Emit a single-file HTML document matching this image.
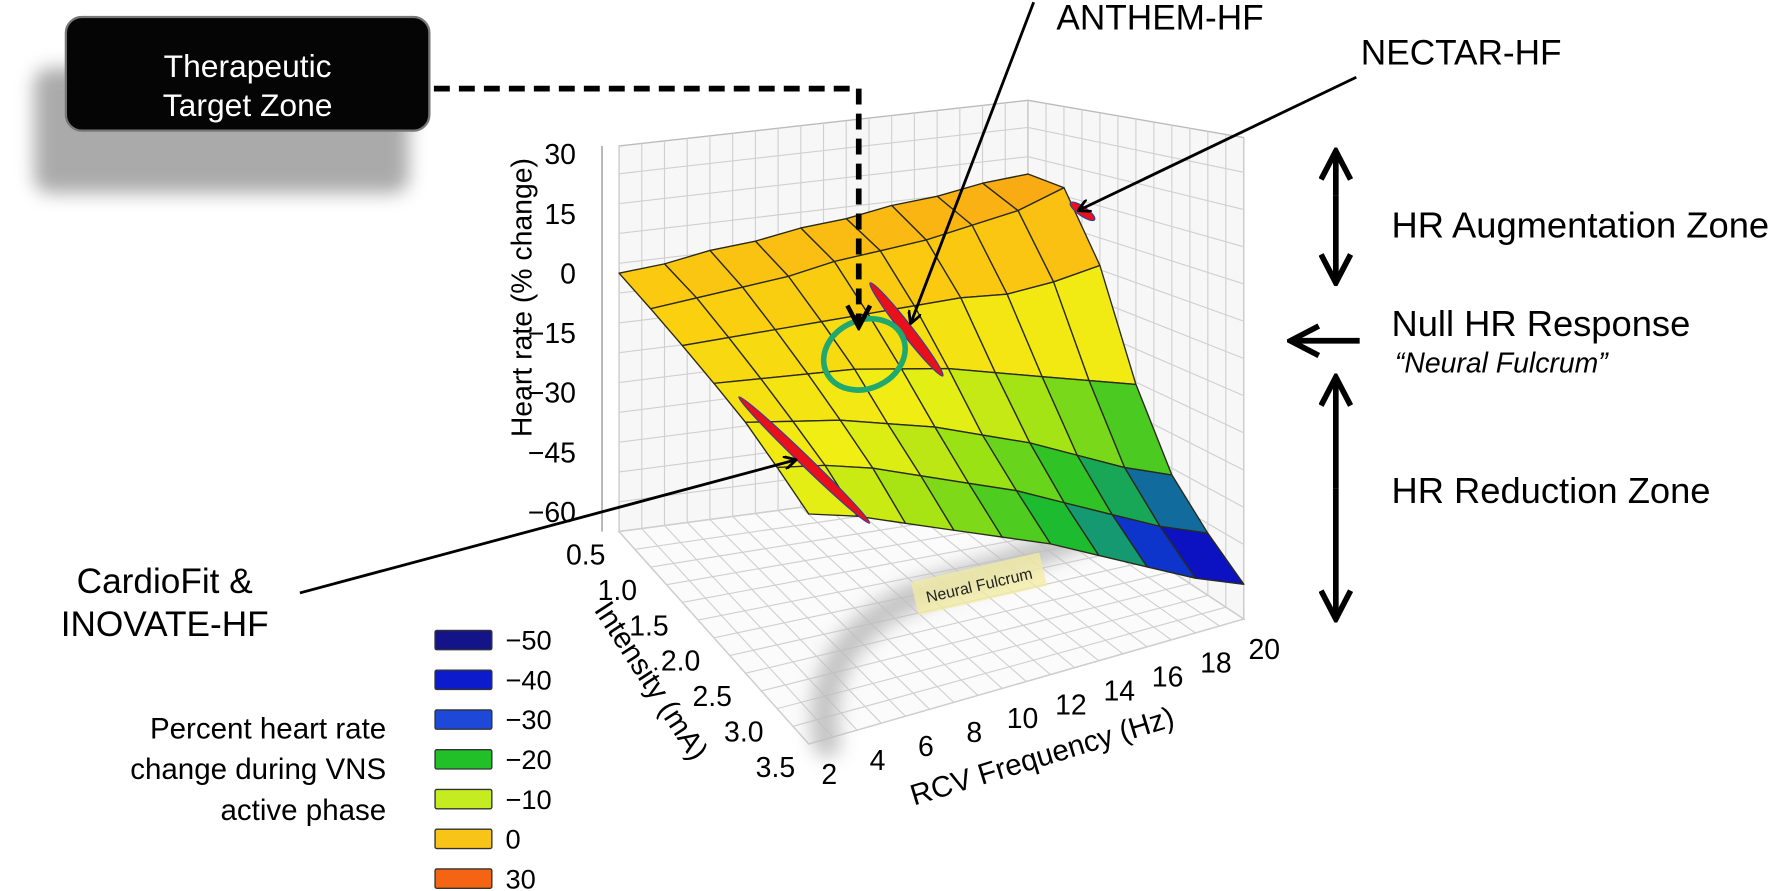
<!DOCTYPE html>
<html><head><meta charset="utf-8">
<style>
html,body{margin:0;padding:0;background:#fff;}
svg{display:block;font-family:"Liberation Sans",Arial,sans-serif;}
</style></head>
<body>
<svg id="fig" width="1772" height="891" viewBox="0 0 1772 891" xmlns="http://www.w3.org/2000/svg">
<defs>
  <filter id="blur8" x="-50%" y="-50%" width="200%" height="200%"><feGaussianBlur stdDeviation="8"/></filter>
  <marker id="ah" markerWidth="12" markerHeight="12" refX="10" refY="6" orient="auto" markerUnits="userSpaceOnUse"><path d="M0,0 L11,6 L0,12" fill="none" stroke="#000" stroke-width="2.5"/></marker>
  <marker id="ahB" markerWidth="30" markerHeight="30" refX="26" refY="15" orient="auto" markerUnits="userSpaceOnUse"><path d="M2,2 L27,15 L2,28" fill="none" stroke="#000" stroke-width="5"/></marker>
  <marker id="ahD" markerWidth="24" markerHeight="24" refX="20" refY="12" orient="auto" markerUnits="userSpaceOnUse"><path d="M2,2 L21,12 L2,22" fill="none" stroke="#000" stroke-width="4"/></marker>
</defs>
<g transform="scale(1.1359)">
<g id="walls"></g>
<g id="fulcrum">
  <path d="M728,655 C715,585 760,535 840,512 C900,495 950,470 985,458" fill="none" stroke="#bdbdbd" stroke-width="24" stroke-linecap="round" filter="url(#blur8)" opacity="0.9"/>
</g>
<g transform="translate(862,515) rotate(-13)">
  <rect x="-58" y="-16" width="116" height="30" fill="#f1eca0" opacity="0.75"/>
  <text x="0" y="5" font-size="14" text-anchor="middle" fill="#222">Neural Fulcrum</text>
</g>
<g id="surface"></g>
<g id="ticks"></g>

<ellipse cx="798" cy="290" rx="52" ry="5" transform="rotate(52 798 290)" fill="#e8101a" stroke="#3040a0" stroke-width="1"/>
<ellipse cx="708" cy="405" rx="80" ry="4.5" transform="rotate(44 708 405)" fill="#e8101a" stroke="#3040a0" stroke-width="1"/>
<ellipse cx="953" cy="186" rx="13" ry="4" transform="rotate(35 953 186)" fill="#e8101a" stroke="#3040a0" stroke-width="1"/>
<ellipse cx="761" cy="312" rx="37" ry="30" transform="rotate(-25 761 312)" fill="none" stroke="#20a870" stroke-width="5"/>

<text transform="translate(468,262) rotate(-90)" font-size="25" text-anchor="middle">Heart rate (% change)</text>
<text transform="translate(566,604) rotate(57)" font-size="26" text-anchor="middle">Intensity (mA)</text>
<text transform="translate(920,674) rotate(-17)" font-size="26" text-anchor="middle">RCV Frequency (Hz)</text>

<g>
  <rect x="30" y="60" width="330" height="110" rx="14" fill="#666" opacity="0.55" filter="url(#blur8)"/>
  <rect x="58" y="15" width="320" height="100" rx="14" fill="#050505" stroke="#777" stroke-width="2"/>
  <text x="218" y="68" font-size="28" fill="#fff" text-anchor="middle">Therapeutic</text>
  <text x="218" y="102" font-size="28" fill="#fff" text-anchor="middle">Target Zone</text>
</g>
<path d="M382,78 L756,78 L756,287" fill="none" stroke="#000" stroke-width="5" stroke-dasharray="14,8" marker-end="url(#ahD)"/>

<text x="930" y="26" font-size="31">ANTHEM-HF</text>
<line x1="910" y1="2" x2="802" y2="284" stroke="#000" stroke-width="2.5" marker-end="url(#ah)"/>
<text x="1198" y="57" font-size="31">NECTAR-HF</text>
<line x1="1194" y1="68" x2="950" y2="185" stroke="#000" stroke-width="2.5" marker-end="url(#ah)"/>
<text x="145" y="522" font-size="31" text-anchor="middle">CardioFit &amp;</text>
<text x="145" y="560" font-size="31" text-anchor="middle">INOVATE-HF</text>
<line x1="264" y1="522" x2="700" y2="405" stroke="#000" stroke-width="2.5" marker-end="url(#ah)"/>

<line x1="1176" y1="172" x2="1176" y2="134" stroke="#000" stroke-width="5" marker-end="url(#ahB)"/>
<line x1="1176" y1="172" x2="1176" y2="248" stroke="#000" stroke-width="5" marker-end="url(#ahB)"/>
<text x="1225" y="209" font-size="32">HR Augmentation Zone</text>
<line x1="1197" y1="300" x2="1137" y2="300" stroke="#000" stroke-width="5" marker-end="url(#ahB)"/>
<text x="1225" y="296" font-size="32">Null HR Response</text>
<text x="1228" y="328" font-size="25" font-style="italic">“Neural Fulcrum”</text>
<line x1="1176" y1="430" x2="1176" y2="333" stroke="#000" stroke-width="5" marker-end="url(#ahB)"/>
<line x1="1176" y1="430" x2="1176" y2="544" stroke="#000" stroke-width="5" marker-end="url(#ahB)"/>
<text x="1225" y="443" font-size="32">HR Reduction Zone</text>

<g id="legend">
  <text x="340" y="650" font-size="26" text-anchor="end">Percent heart rate</text>
  <text x="340" y="686" font-size="26" text-anchor="end">change during VNS</text>
  <text x="340" y="722" font-size="26" text-anchor="end">active phase</text>
</g>
</g>
</svg>
<script>
// ---- data ----
const freqs = [2,4,6,8,10,12,14,16,18,20];
const intensities = [0.5,1.0,1.5,2.0,2.5,3.0,3.5];
const hr_i05 = [0, 1, 3, 4, 6, 7, 9, 10, 12, 13];
const hr_i10 = [-3, -2, -1, 0, 2, 3, 4, 6, 8, 12];
const hr_i15 = [-6, -6, -6, -6, -6, -6, -6, -7, -6, -4];
const hr_i20 = [-9, -10, -11, -12, -14, -16, -19, -22, -25, -28];
const hr_i25 = [-12, -14, -16, -19, -22, -26, -30, -35, -40, -44];
const hr_i30 = [-16, -18, -21, -25, -29, -33, -38, -43, -48, -52];
const hr_i35 = [-20, -23, -27, -31, -35, -39, -44, -49, -54, -58];
const zTicks = [30, 15, 0, -15, -30, -45, -60];
const zTickLabels = ["30","15","0","\u221215","\u221230","\u221245","\u221260"];
const freqTickLabels = ["2","4","6","8","10","12","14","16","18","20"];
const intTickLabels = ["0.5","1.0","1.5","2.0","2.5","3.0","3.5"];
const legendValues = [-50,-40,-30,-20,-10,0,30];
const legendLabels = ["\u221250","\u221240","\u221230","\u221220","\u221210","0","30"];
const legendColors = ["#14148a","#0c1ccc","#1e48d8","#22c028","#c4ec20","#f8c418","#f46412"];

const rows = [hr_i05,hr_i10,hr_i15,hr_i20,hr_i25,hr_i30,hr_i35];
const NS = "http://www.w3.org/2000/svg";
const FLOOR = -65, TOP = 32;
const C = {bl:[545,468], br:[905,420], fl:[712,655], fr:[1095,545]};
const S = {bl:3.5, br:3.42, fl:4.5, fr:4.37};
function lerp(a,b,t){return a+(b-a)*t;}
function proj(f,i,z){
  const u=(f-2)/18, v=(i-0.5)/3;
  const x = lerp(lerp(C.bl[0],C.br[0],u), lerp(C.fl[0],C.fr[0],u), v);
  const y = lerp(lerp(C.bl[1],C.br[1],u), lerp(C.fl[1],C.fr[1],u), v);
  const s = lerp(lerp(S.bl,S.br,u), lerp(S.fl,S.fr,u), v);
  return [x, y-(z-FLOOR)*s];
}
function el(tag, attrs, parent){const e=document.createElementNS(NS,tag);for(const k in attrs)e.setAttribute(k,attrs[k]);parent.appendChild(e);return e;}
function pts(a){return a.map(p=>p[0].toFixed(1)+","+p[1].toFixed(1)).join(" ");}

const walls=document.getElementById('walls');
const wallStyle={fill:"#f7f7f7",stroke:"#bbb","stroke-width":"1.2"};
const backWall = el('polygon',Object.assign({points:pts([proj(2,0.5,FLOOR),proj(20,0.5,FLOOR),proj(20,0.5,TOP),proj(2,0.5,TOP)])},wallStyle),walls);


const rightWall = el('polygon',Object.assign({points:pts([proj(20,0.5,FLOOR),proj(20,3.5,FLOOR),proj(20,3.5,TOP),proj(20,0.5,TOP)])},wallStyle),walls);


const floorP = el('polygon',{points:pts([proj(2,0.5,FLOOR),proj(20,0.5,FLOOR),proj(20,3.5,FLOOR),proj(2,3.5,FLOOR)]),fill:"#fbfbfb",stroke:"#bbb","stroke-width":"1.2"},walls);


const g="#d0d0d0";
for(let z=FLOOR; z<=TOP; z+=7.5){
  const a=proj(2,0.5,z),b=proj(20,0.5,z),c=proj(20,3.5,z);
  el('polyline',{points:pts([a,b,c]),fill:"none",stroke:g,"stroke-width":"1"},walls);
}
for(let f=2; f<=20; f+=1){
  const a=proj(f,0.5,FLOOR),b=proj(f,0.5,TOP),c=proj(f,3.5,FLOOR);
  el('line',{x1:a[0],y1:a[1],x2:b[0],y2:b[1],stroke:g,"stroke-width":"1"},walls);
  el('line',{x1:a[0],y1:a[1],x2:c[0],y2:c[1],stroke:g,"stroke-width":"1"},walls);
}
for(let i=0.5; i<=3.501; i+=0.25){
  const a=proj(20,i,FLOOR),b=proj(20,i,TOP),c=proj(2,i,FLOOR);
  el('line',{x1:a[0],y1:a[1],x2:b[0],y2:b[1],stroke:g,"stroke-width":"1"},walls);
  el('line',{x1:c[0],y1:c[1],x2:a[0],y2:a[1],stroke:g,"stroke-width":"1"},walls);
}
{const a=proj(2,0.5,FLOOR),b=proj(2,0.5,TOP);
el('line',{x1:a[0]-15,y1:a[1],x2:b[0]-15,y2:b[1],stroke:"#999","stroke-width":"1.2"},walls);}

const cStops=[[-58,[15,15,130]],[-50,[10,20,230]],[-44,[20,150,120]],[-38,[30,190,40]],[-28,[150,225,20]],[-18,[240,240,20]],[-5,[250,210,15]],[10,[250,175,20]],[20,[245,140,15]],[30,[245,110,15]]];
function color(z){
  if(z<=cStops[0][0])return "rgb("+cStops[0][1]+")";
  for(let k=1;k<cStops.length;k++){if(z<=cStops[k][0]){const t=(z-cStops[k-1][0])/(cStops[k][0]-cStops[k-1][0]);const a=cStops[k-1][1],b=cStops[k][1];return "rgb("+a.map((v,j)=>Math.round(lerp(v,b[j],t))).join(",")+")";}}
  return "rgb("+cStops[cStops.length-1][1]+")";
}

const surf=document.getElementById('surface');
const quads=[];
for(let r=0;r<intensities.length-1;r++){
  for(let c=0;c<freqs.length-1;c++){
    const p=[proj(freqs[c],intensities[r],rows[r][c]),proj(freqs[c+1],intensities[r],rows[r][c+1]),proj(freqs[c+1],intensities[r+1],rows[r+1][c+1]),proj(freqs[c],intensities[r+1],rows[r+1][c])];
    const zm=(rows[r][c]+rows[r][c+1]+rows[r+1][c]+rows[r+1][c+1])/4;
    const depth=proj((freqs[c]+freqs[c+1])/2,(intensities[r]+intensities[r+1])/2,FLOOR)[1];
    quads.push({p,zm,depth});
  }
}
quads.sort((a,b)=>a.depth-b.depth);
quads.forEach(q=>{
  const poly=el('polygon',{points:pts(q.p),fill:color(q.zm),stroke:"#2a2a1a","stroke-width":"1.2","stroke-linejoin":"round"},surf);
  
  
});

const ticks=document.getElementById('ticks');
zTicks.forEach((z,k)=>{
  const p=proj(2,0.5,z);
  const t=el('text',{x:p[0]-38,y:p[1]+9,"font-size":"25","text-anchor":"end"},ticks);t.textContent=zTickLabels[k];
  
  
});
freqs.forEach((f,k)=>{
  const p=proj(f,3.5,FLOOR);
  const t=el('text',{x:p[0]+18,y:p[1]+35,"font-size":"25","text-anchor":"middle"},ticks);t.textContent=freqTickLabels[k];
  
  
});
intensities.forEach((i,k)=>{
  const p=proj(2,i,FLOOR);
  const t=el('text',{x:p[0]-12,y:p[1]+29,"font-size":"25","text-anchor":"end"},ticks);t.textContent=intTickLabels[k];
  
  
});

const lg=document.getElementById('legend');
legendValues.forEach((v,k)=>{
  const y=555+k*35;
  const r=el('rect',{x:383,y:y,width:50,height:17,fill:legendColors[k],stroke:"#333","stroke-width":"1.2",rx:"1.5"},lg);
  
  
  const t=el('text',{x:445,y:y+17,"font-size":"24"},lg);t.textContent=legendLabels[k];
  
  
});
</script>
</body></html>
